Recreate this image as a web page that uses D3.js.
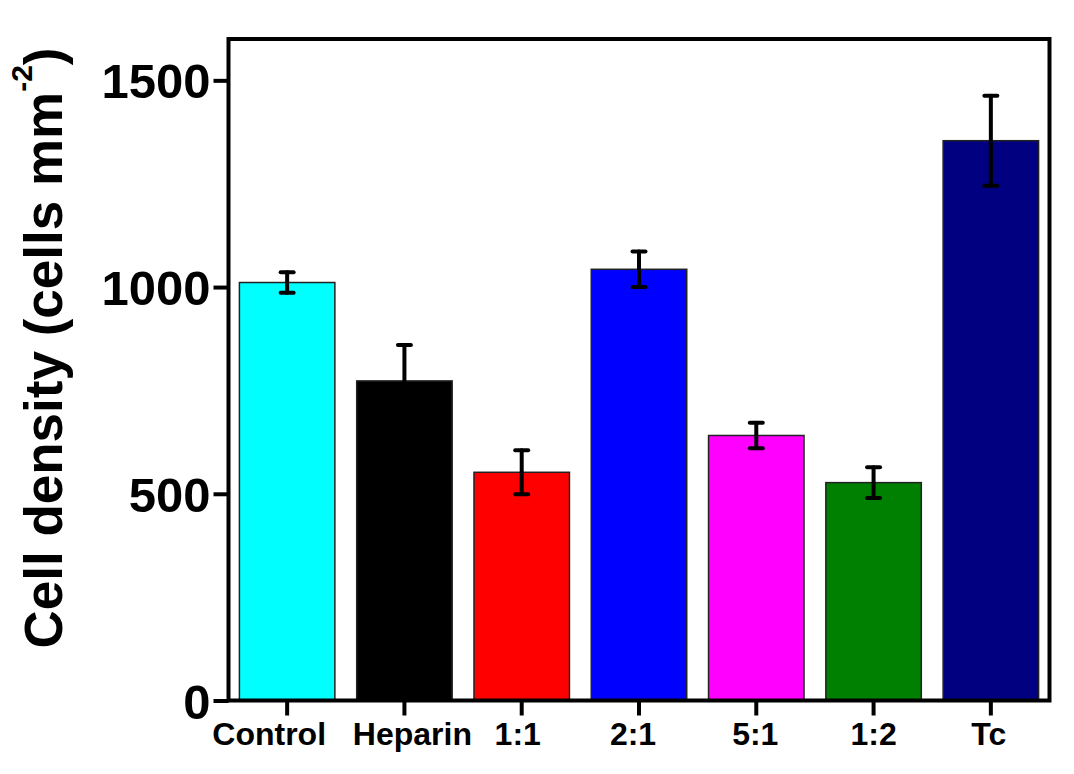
<!DOCTYPE html>
<html>
<head>
<meta charset="utf-8">
<script src="https://cdn.jsdelivr.net/npm/d3@7"></script>
<style>
  html, body { margin: 0; padding: 0; background: #fff; }
  svg { display: block; }
  text { font-family: "Liberation Sans", Arial, sans-serif; font-weight: bold; fill: #000; }
</style>
</head>
<body>
<script>
// Cell density per surface treatment
const categories = ["Control", "Heparin", "1:1", "2:1", "5:1", "1:2", "Tc"];
const densities  = [1011, 773, 552, 1043, 641, 527, 1354];
const errors     = [25, 87, 53, 43, 31, 37, 109];
const barColors  = ["#00FFFF", "#000000", "#FF0000", "#0000FF", "#FF00FF", "#008000", "#000080"];
const yTicks     = [0, 500, 1000, 1500];
// small horizontal nudges so neighbouring category labels do not collide
const labelShift = [-18, 8, -4, -6, -1, 0, -2];

const W = 1074, H = 774;
const plot = { left: 228.5, right: 1049.5, top: 39, bottom: 700.5 };

const svg = d3.select("body").append("svg")
  .attr("width", W).attr("height", H);

const x = d3.scaleBand()
  .domain(categories)
  .range([plot.left, plot.right])
  .paddingInner(0.186)
  .paddingOuter(0.093);

const y = d3.scaleLinear()
  .domain([0, 1600])
  .range([plot.bottom, plot.top]);

const rows = categories.map((c, i) => ({ c, v: densities[i], e: errors[i], col: barColors[i] }));

// bars
svg.append("g").selectAll("rect")
  .data(rows).join("rect")
  .attr("x", d => x(d.c))
  .attr("width", x.bandwidth())
  .attr("y", d => y(d.v))
  .attr("height", d => y(0) - y(d.v))
  .attr("fill", d => d.col)
  .attr("stroke", "#222")
  .attr("stroke-width", 1.5);

// error bars (mean ± error)
const eb = svg.append("g")
  .attr("stroke", "#000")
  .attr("stroke-width", 4)
  .attr("stroke-linecap", "round");
const cx = d => x(d.c) + x.bandwidth() / 2;
eb.selectAll("line.v").data(rows).join("line").attr("class", "v")
  .attr("x1", cx).attr("x2", cx)
  .attr("y1", d => y(d.v + d.e)).attr("y2", d => y(d.v - d.e));
eb.selectAll("line.t").data(rows).join("line").attr("class", "t")
  .attr("x1", d => cx(d) - 6.5).attr("x2", d => cx(d) + 6.5)
  .attr("y1", d => y(d.v + d.e)).attr("y2", d => y(d.v + d.e));
eb.selectAll("line.b").data(rows).join("line").attr("class", "b")
  .attr("x1", d => cx(d) - 6.5).attr("x2", d => cx(d) + 6.5)
  .attr("y1", d => y(d.v - d.e)).attr("y2", d => y(d.v - d.e));

// axes
const yAxis = svg.append("g")
  .attr("transform", `translate(${plot.left},0)`)
  .call(d3.axisLeft(y).tickValues(yTicks).tickSize(15).tickPadding(3).tickFormat(d3.format("d")));
yAxis.select(".domain").remove();
yAxis.selectAll(".tick line").attr("stroke", "#000").attr("stroke-width", 4);
yAxis.selectAll(".tick text").style("font-size", "49px").attr("dy", "0.36em");

const xAxis = svg.append("g")
  .attr("transform", `translate(0,${plot.bottom})`)
  .call(d3.axisBottom(x).tickSize(15).tickPadding(0));
xAxis.select(".domain").remove();
xAxis.selectAll(".tick line").attr("stroke", "#000").attr("stroke-width", 4);
xAxis.selectAll(".tick text")
  .style("font-size", "32px")
  .attr("y", 44.5).attr("dy", 0)
  .attr("x", (d, i) => labelShift[i]);

// frame
svg.append("rect")
  .attr("x", plot.left).attr("y", plot.top)
  .attr("width", plot.right - plot.left).attr("height", plot.bottom - plot.top)
  .attr("fill", "none").attr("stroke", "#000").attr("stroke-width", 4);

// y-axis title
const title = svg.append("text")
  .attr("transform", "translate(62,348) rotate(-90)")
  .attr("text-anchor", "middle")
  .style("font-size", "53px");
title.append("tspan").text("Cell density (cells mm");
title.append("tspan").text("-2").style("font-size", "30px").attr("dy", -30);
title.append("tspan").text(")").attr("dy", 30);
</script>
</body>
</html>
